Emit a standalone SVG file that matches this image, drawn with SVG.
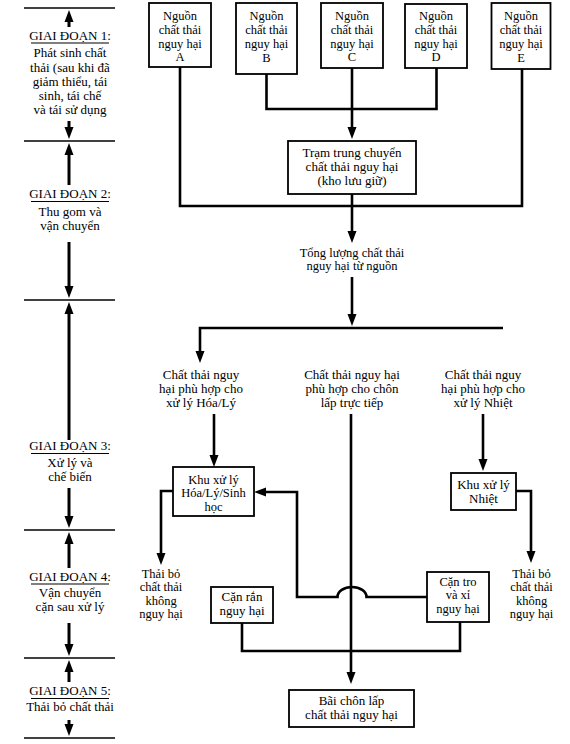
<svg xmlns="http://www.w3.org/2000/svg" width="570" height="744" viewBox="0 0 570 744">
<style>
text{font-family:"Liberation Serif","Times New Roman",serif;font-size:13px;fill:#000;text-anchor:middle}
.bx{font-size:12.5px}
.sm{font-size:12.5px}
.box{fill:#fff;stroke:#000;stroke-width:1.8}
.c{fill:none;stroke:#000;stroke-width:2.6}
.sep{stroke:#000;stroke-width:1.3}
.ul{stroke:#000;stroke-width:1.2}
.ar{fill:none;stroke:#000;stroke-width:3}
</style>
<defs>
<marker id="ah" markerUnits="userSpaceOnUse" markerWidth="13" markerHeight="10" refX="2" refY="5" orient="auto">
<path d="M0,0.5 L12,5 L0,9.5 z" fill="#000"/>
</marker>
</defs>
<rect width="570" height="744" fill="#fff"/>

<g id="stages">
<line class="sep" x1="24" y1="8" x2="115" y2="8"/>
<line class="sep" x1="24" y1="141" x2="115" y2="141"/>
<line class="sep" x1="24" y1="300" x2="115" y2="300"/>
<line class="sep" x1="24" y1="530" x2="115" y2="530"/>
<line class="sep" x1="24" y1="658" x2="115" y2="658"/>
<line class="sep" x1="24" y1="738" x2="115" y2="738"/>

<line class="ar" x1="69" y1="27" x2="69" y2="20" marker-end="url(#ah)"/>
<line class="ar" x1="69" y1="121" x2="69" y2="129" marker-end="url(#ah)"/>
<line class="ar" x1="69" y1="185" x2="69" y2="153" marker-end="url(#ah)"/>
<line class="ar" x1="69" y1="242" x2="69" y2="288" marker-end="url(#ah)"/>
<line class="ar" x1="69" y1="440" x2="69" y2="312" marker-end="url(#ah)"/>
<line class="ar" x1="69" y1="488" x2="69" y2="518" marker-end="url(#ah)"/>
<line class="ar" x1="69" y1="568" x2="69" y2="542" marker-end="url(#ah)"/>
<line class="ar" x1="69" y1="623" x2="69" y2="646" marker-end="url(#ah)"/>
<line class="ar" x1="69" y1="682" x2="69" y2="670" marker-end="url(#ah)"/>
<line class="ar" x1="69" y1="720" x2="69" y2="726" marker-end="url(#ah)"/>

<g id="stage1">
<text x="70" y="40">GIAI ĐOẠN 1:</text>
<line class="ul" x1="31" y1="43" x2="109" y2="43"/>
<text x="70" y="57">Phát sinh chất</text>
<text x="70" y="72">thải (sau khi đã</text>
<text x="70" y="86">giảm thiểu, tái</text>
<text x="70" y="100">sinh, tái chế</text>
<text x="70" y="114">và tái sử dụng</text>
</g>
<g id="stage2">
<text x="70" y="198">GIAI ĐOẠN 2:</text>
<line class="ul" x1="31" y1="201.5" x2="109" y2="201.5"/>
<text x="70" y="216">Thu gom và</text>
<text x="70" y="230">vận chuyển</text>
</g>
<g id="stage3">
<text x="70" y="450">GIAI ĐOẠN 3:</text>
<line class="ul" x1="31" y1="453.5" x2="109" y2="453.5"/>
<text x="70" y="467">Xử lý và</text>
<text x="70" y="481">chế biến</text>
</g>
<g id="stage4">
<text x="70" y="581">GIAI ĐOẠN 4:</text>
<line class="ul" x1="31" y1="584" x2="109" y2="584"/>
<text x="70" y="597">Vận chuyển</text>
<text x="70" y="611">cặn sau xử lý</text>
</g>
<g id="stage5">
<text x="70" y="695">GIAI ĐOẠN 5:</text>
<line class="ul" x1="31" y1="698.5" x2="109" y2="698.5"/>
<text x="70" y="711">Thải bỏ chất thải</text>
</g>
</g>

<g id="connectors">
<path class="c" d="M180,67 L180,206 L522,206 L522,69"/>
<path class="c" d="M266.5,74 L266.5,109 L436.5,109 L436.5,68"/>
<path class="c" d="M352,68 L352,129" marker-end="url(#ah)"/>
<path class="c" d="M352,194 L352,233" marker-end="url(#ah)"/>
<path class="c" d="M352,277 L352,316" marker-end="url(#ah)"/>
<path class="c" d="M503,328 L200,328 L200,353" marker-end="url(#ah)"/>
<path class="c" d="M214,414 L214,457" marker-end="url(#ah)"/>
<path class="c" d="M351,414 L351,674" marker-end="url(#ah)"/>
<path class="c" d="M483,414 L483,461" marker-end="url(#ah)"/>
<path class="c" d="M173,491 L161,491 L161,555" marker-end="url(#ah)"/>
<path class="c" d="M516,491 L531,491 L531,553" marker-end="url(#ah)"/>
<path class="c" d="M427,597 L366.5,597 A14.5,10 0 0 0 337.5,597 L297,597 L297,492 L264,492" marker-end="url(#ah)"/>
<path class="c" d="M242,623 L242,651 L460,651 L460,622"/>
</g>

<g id="srcA">
<rect class="box" x="149" y="3" width="62" height="64"/>
<text class="bx" x="180" y="20">Nguồn</text>
<text class="bx" x="180" y="34">chất thải</text>
<text class="bx" x="180" y="48">nguy hại</text>
<text class="bx" x="180" y="61">A</text>
</g>
<g id="srcB">
<rect class="box" x="236" y="3" width="61" height="71"/>
<text class="bx" x="266.5" y="20">Nguồn</text>
<text class="bx" x="266.5" y="34">chất thải</text>
<text class="bx" x="266.5" y="48">nguy hại</text>
<text class="bx" x="266.5" y="62">B</text>
</g>
<g id="srcC">
<rect class="box" x="321" y="3" width="62" height="65"/>
<text class="bx" x="352" y="20">Nguồn</text>
<text class="bx" x="352" y="34">chất thải</text>
<text class="bx" x="352" y="48">nguy hại</text>
<text class="bx" x="352" y="61">C</text>
</g>
<g id="srcD">
<rect class="box" x="405" y="4" width="62" height="64"/>
<text class="bx" x="436" y="20">Nguồn</text>
<text class="bx" x="436" y="34">chất thải</text>
<text class="bx" x="436" y="48">nguy hại</text>
<text class="bx" x="436" y="61">D</text>
</g>
<g id="srcE">
<rect class="box" x="491.5" y="3" width="59" height="66"/>
<text class="bx" x="521" y="20">Nguồn</text>
<text class="bx" x="521" y="34">chất thải</text>
<text class="bx" x="521" y="48">nguy hại</text>
<text class="bx" x="521" y="62">E</text>
</g>

<g id="tram">
<rect class="box" x="288" y="141" width="128" height="53"/>
<text x="352" y="157">Trạm trung chuyển</text>
<text x="352" y="171">chất thải nguy hại</text>
<text x="352" y="185">(kho lưu giữ)</text>
</g>

<g id="tong">
<text class="sm" x="352" y="256.5">Tổng lượng chất thải</text>
<text class="sm" x="352" y="270">nguy hại từ nguồn</text>
</g>

<g id="hoaly">
<text x="201" y="379">Chất thải nguy</text>
<text x="201" y="393">hại phù hợp cho</text>
<text x="201" y="407">xử lý Hóa/Lý</text>
</g>
<g id="choncap">
<text x="352" y="379">Chất thải nguy hại</text>
<text x="352" y="393">phù hợp cho chôn</text>
<text x="352" y="407">lấp trực tiếp</text>
</g>
<g id="nhiet">
<text x="483" y="379">Chất thải nguy</text>
<text x="483" y="393">hại phù hợp cho</text>
<text x="483" y="407">xử lý Nhiệt</text>
</g>

<g id="khuHoa">
<rect class="box" x="173" y="467" width="81" height="49"/>
<text class="sm" x="213.5" y="483.5">Khu xử lý</text>
<text class="sm" x="213.5" y="497">Hóa/Lý/Sinh</text>
<text class="sm" x="213.5" y="510.5">học</text>
</g>
<g id="khuNhiet">
<rect class="box" x="451" y="473" width="65" height="37"/>
<text x="483.5" y="489">Khu xử lý</text>
<text x="483.5" y="503">Nhiệt</text>
</g>

<g id="thaiboL">
<text class="sm" x="161" y="577.5">Thải bỏ</text>
<text class="sm" x="161" y="591">chất thải</text>
<text class="sm" x="161" y="604.5">không</text>
<text class="sm" x="161" y="618">nguy hại</text>
</g>
<g id="thaiboR">
<text class="sm" x="531.5" y="577.5">Thải bỏ</text>
<text class="sm" x="531.5" y="591">chất thải</text>
<text class="sm" x="531.5" y="604.5">không</text>
<text class="sm" x="531.5" y="618">nguy hại</text>
</g>

<g id="canran">
<rect class="box" x="211" y="587" width="62" height="36"/>
<text x="242" y="601">Cặn rắn</text>
<text x="242" y="615">nguy hại</text>
</g>
<g id="cantro">
<rect class="box" x="427" y="572" width="62" height="50"/>
<text class="sm" x="458" y="585.5">Cặn tro</text>
<text class="sm" x="458" y="599">và xỉ</text>
<text class="sm" x="458" y="612.5">nguy hại</text>
</g>

<g id="baichon">
<rect class="box" x="289" y="690" width="125" height="37"/>
<text x="351.5" y="705">Bãi chôn lấp</text>
<text x="351.5" y="719">chất thải nguy hại</text>
</g>
</svg>
